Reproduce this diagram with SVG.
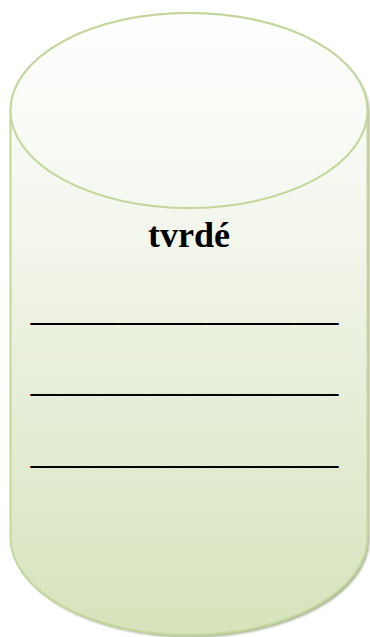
<svg xmlns="http://www.w3.org/2000/svg" width="370" height="637" viewBox="0 0 370 637">
<style>
.edge{stroke:#c3d69b;stroke-width:2;}
.t{font-family:"Liberation Serif","Times New Roman",serif;fill:#000;text-anchor:middle;}
.u{font-size:29.33px;font-weight:bold;}
</style>
<defs>
<linearGradient id="body" x1="0" y1="0" x2="0" y2="1" gradientUnits="objectBoundingBox">
<stop offset="0" stop-color="#fefefe"/>
<stop offset="0.35" stop-color="#f3f6ec"/>
<stop offset="1" stop-color="#d6e3bc"/>
</linearGradient>
<linearGradient id="top" x1="0" y1="0" x2="0" y2="1">
<stop offset="0" stop-color="#fefefe"/>
<stop offset="1" stop-color="#f5f8f0"/>
</linearGradient>
<filter id="blur" x="-5%" y="-5%" width="110%" height="110%"><feGaussianBlur stdDeviation="1"/></filter>
</defs>
<g id="cylinder">
<path d="M12.5,113 A178.5,97.5 0 0 1 369.5,113 L369.5,540 A178.5,97.5 0 0 1 12.5,540 Z" fill="#8e9c74" opacity="0.75" filter="url(#blur)"/>
<path class="edge" d="M10.5,110.5 A178.5,97.5 0 0 1 367.5,110.5 L367.5,537.5 A178.5,97.5 0 0 1 10.5,537.5 Z" fill="url(#body)"/>
<ellipse class="edge" cx="189" cy="110.5" rx="178.5" ry="97.5" fill="url(#top)"/>
<text class="t" x="189" y="247" font-size="36" font-weight="bold">tvrdé</text>
<text class="t u" x="184.5" y="321">_____________________</text>
<text class="t u" x="184.5" y="392">_____________________</text>
<text class="t u" x="184.5" y="463.5">_____________________</text>
</g>
</svg>
